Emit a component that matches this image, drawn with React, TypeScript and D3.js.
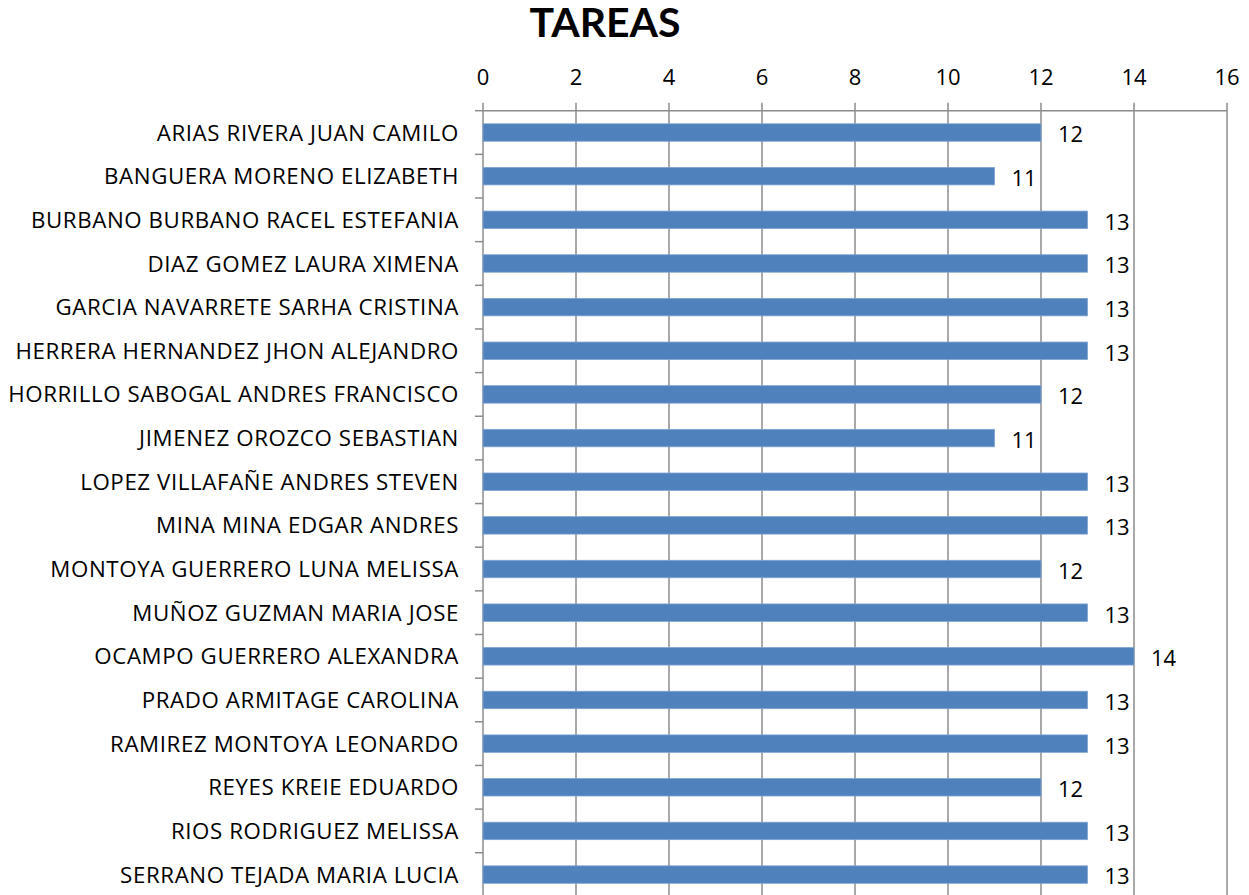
import React from "react";
import * as d3 from "d3";

const students = [
  "ARIAS RIVERA JUAN CAMILO",
  "BANGUERA MORENO ELIZABETH",
  "BURBANO BURBANO RACEL ESTEFANIA",
  "DIAZ GOMEZ LAURA XIMENA",
  "GARCIA NAVARRETE SARHA CRISTINA",
  "HERRERA HERNANDEZ JHON ALEJANDRO",
  "HORRILLO SABOGAL ANDRES FRANCISCO",
  "JIMENEZ OROZCO SEBASTIAN",
  "LOPEZ VILLAFAÑE ANDRES STEVEN",
  "MINA MINA EDGAR ANDRES",
  "MONTOYA GUERRERO LUNA MELISSA",
  "MUÑOZ GUZMAN MARIA JOSE",
  "OCAMPO GUERRERO ALEXANDRA",
  "PRADO ARMITAGE CAROLINA",
  "RAMIREZ MONTOYA LEONARDO",
  "REYES KREIE EDUARDO",
  "RIOS RODRIGUEZ MELISSA",
  "SERRANO TEJADA MARIA LUCIA",
];
const tareas = [12, 11, 13, 13, 13, 13, 12, 11, 13, 13, 12, 13, 14, 13, 13, 12, 13, 13];
const xTicks = [0, 2, 4, 6, 8, 10, 12, 14, 16];

const W = 1249;
const H = 895;
const left = 483;
const right = 1227;
const top = 110.7;
const bottom = top + 18 * 43.65;
const titleFont = "Lato, 'Open Sans', sans-serif";
const font = "'Open Sans', Lato, sans-serif";

export default function App() {
  const x = d3.scaleLinear().domain([0, 16]).range([left, right]);
  const y = d3.scaleBand<string>().domain(students).range([top, bottom]).paddingInner(0.6).paddingOuter(0.3);
  const step = y.step();
  const grid = "#8c8c8c";
  return (
    <svg width={W} height={H} style={{ position: "absolute", left: 0, top: 0, background: "#fff" }}>
      <text x={605} y={37} textAnchor="middle" fontFamily={titleFont} fontWeight={700} fontSize={41}>
        TAREAS
      </text>
      {xTicks.map((t) => (
        <g key={t}>
          <line x1={x(t)} x2={x(t)} y1={top - 8} y2={H + 10} stroke={grid} strokeWidth={1.5} />
          <text x={x(t)} y={85} textAnchor="middle" fontFamily={font} fontSize={22} fill="#000">
            {t}
          </text>
        </g>
      ))}
      <line x1={left} x2={right} y1={top} y2={top} stroke={grid} strokeWidth={1.5} />
      {students.map((s, i) => (
        <line key={"tk" + s} x1={left - 8} x2={left} y1={top + i * step} y2={top + i * step} stroke={grid} strokeWidth={1.5} />
      ))}
      {students.map((s, i) => {
        const yy = y(s)!;
        const h = y.bandwidth();
        return (
          <g key={s}>
            <rect x={x(0)} y={yy} width={x(tareas[i]) - x(0)} height={h} fill="#4F81BD" stroke="#7fa3d2" strokeWidth={0.8} />
            <text x={459} y={yy + h / 2} dy="0.36em" textAnchor="end" fontFamily={font} fontSize={22.3} letterSpacing={0.6} fill="#000">
              {s}
            </text>
            <text x={x(tareas[i]) + 17} y={yy + h / 2 + 2} dy="0.36em" textAnchor="start" fontFamily={font} fontSize={22} fill="#000">
              {tareas[i]}
            </text>
          </g>
        );
      })}
    </svg>
  );
}
